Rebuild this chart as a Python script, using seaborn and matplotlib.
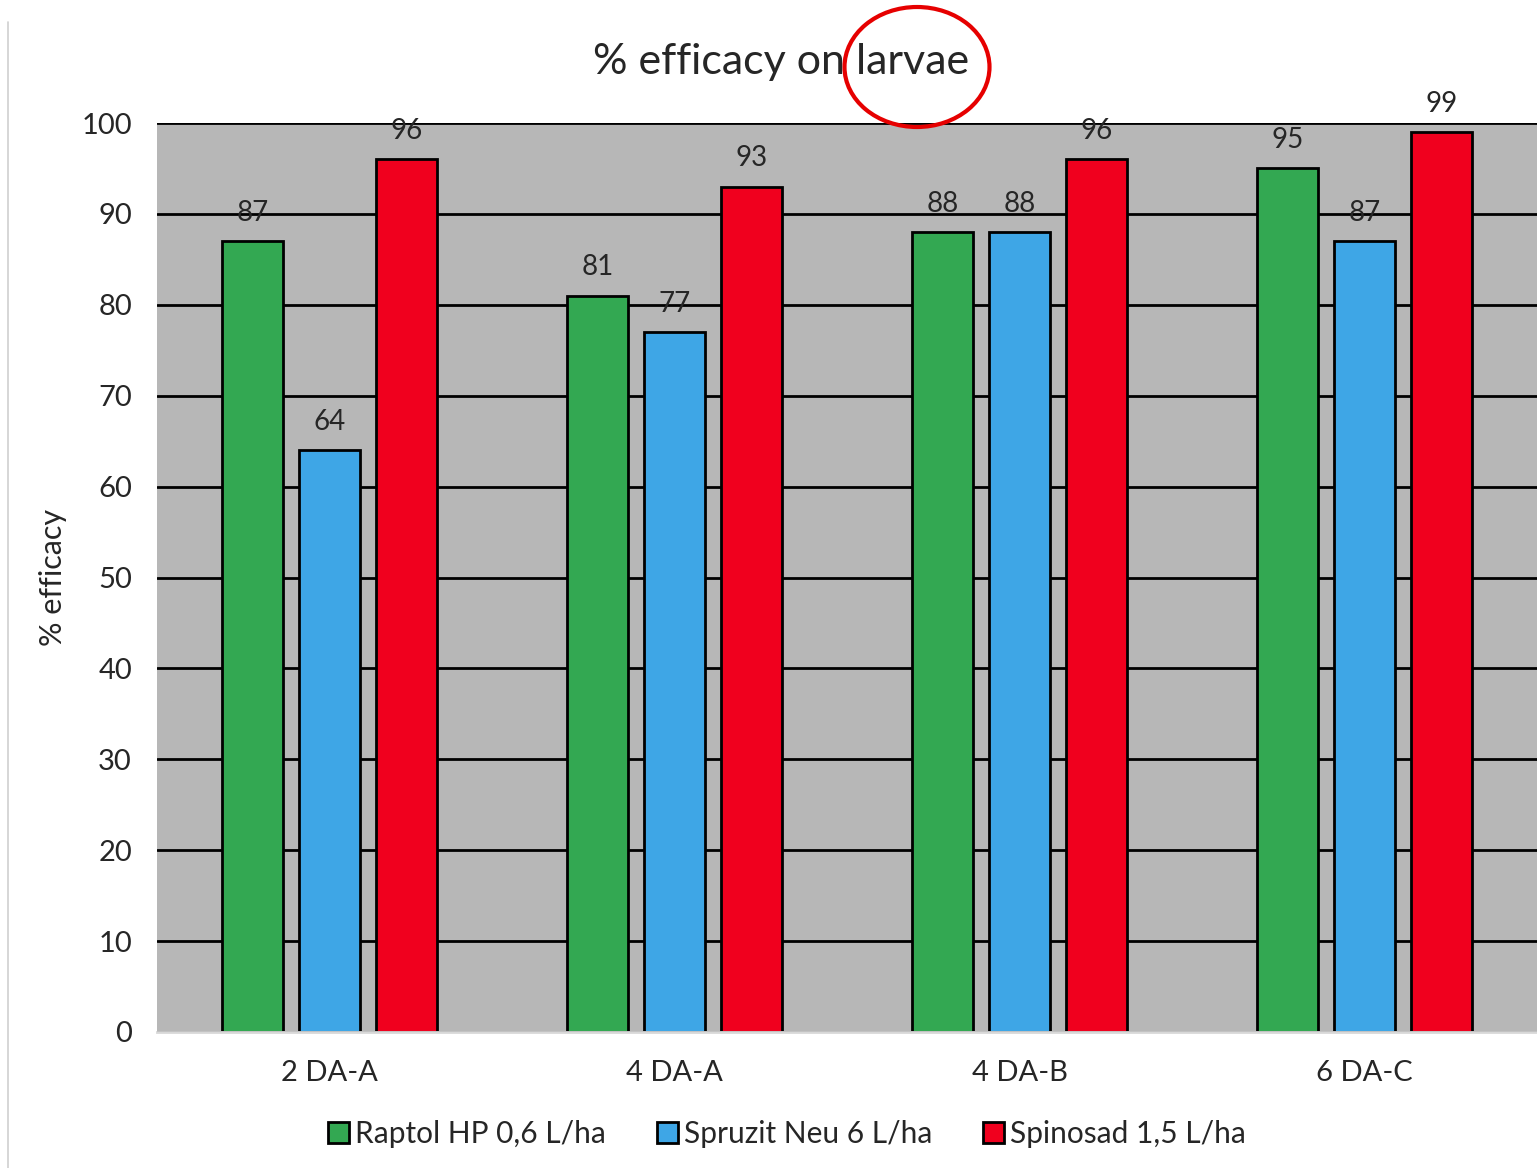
import matplotlib
matplotlib.use("Agg")
import matplotlib.pyplot as plt
from matplotlib.patches import Ellipse
from matplotlib.lines import Line2D
import seaborn as sns
import pandas as pd

# Trial sites / assessment timings
sites = ["2 DA-A", "4 DA-A", "4 DA-B", "6 DA-C"]

# Efficacy (%) per treatment
raptol = [87, 81, 88, 95]
spruzit = [64, 77, 88, 87]
spinosad = [96, 93, 96, 99]

treatments = ["Raptol HP 0,6 L/ha", "Spruzit Neu 6 L/ha", "Spinosad 1,5 L/ha"]
colors = ["#33A852", "#3EA6E6", "#F0001E"]

df = pd.DataFrame({
    "site": sites * 3,
    "treatment": [treatments[0]] * 4 + [treatments[1]] * 4 + [treatments[2]] * 4,
    "efficacy": raptol + spruzit + spinosad,
})

sns.set_style("white")
plt.rcParams["font.family"] = ["Lato", "DejaVu Sans"]

W, H = 1537, 1168
fig = plt.figure(figsize=(W / 100, H / 100), dpi=100)
ax = fig.add_axes([157 / W, 136 / H, 1 - 157 / W, (1032 - 123) / H])

sns.barplot(data=df, x="site", y="efficacy", hue="treatment", order=sites,
            hue_order=treatments, palette=colors, width=0.667, gap=0.2,
            edgecolor="black", linewidth=2, saturation=1, ax=ax, legend=True,
            err_kws={"linewidth": 0})

ax.set_facecolor("#B7B7B7")
ax.set_xlim(-0.5, 3.5)
ax.set_ylim(0, 100)
ax.set_yticks(range(0, 101, 10))
ax.set_axisbelow(True)
ax.yaxis.grid(True, color="black", linewidth=2)
ax.xaxis.grid(False)
for side in ["top", "right", "left"]:
    ax.spines[side].set_visible(False)
ax.spines["bottom"].set_color("#d8d8d8")
ax.spines["bottom"].set_linewidth(2)
ax.tick_params(axis="both", length=0, labelsize=21)
ax.tick_params(axis="y", pad=18)
ax.tick_params(axis="x", pad=20)
ax.set_xlabel("")
ax.set_ylabel("% efficacy", fontsize=22, labelpad=10)

for cont in ax.containers:
    ax.bar_label(cont, fmt="%d", padding=11, fontsize=20)

handles, labels = ax.get_legend_handles_labels()
ax.get_legend().remove()
fig.legend(handles, labels, loc="center", bbox_to_anchor=(787 / W, 1 - 1134 / H),
           ncol=3, frameon=False, fontsize=21.5, handlelength=0.7, handleheight=0.7,
           handletextpad=0.2, columnspacing=1.7)

fig.text(781 / W, 1 - 62 / H, "% efficacy on larvae", ha="center", va="center",
         fontsize=31)
fig.add_artist(Ellipse((917 / W, 1 - 67 / H), 145 / W, 120 / H,
                       transform=fig.transFigure, fill=False,
                       edgecolor="#E60000", linewidth=3))
fig.add_artist(Line2D([8 / W, 8 / W], [0, 1 - 22 / H], transform=fig.transFigure,
                      color="#d0d0d0", linewidth=1.2))

fig.savefig("out.png", dpi=100)
